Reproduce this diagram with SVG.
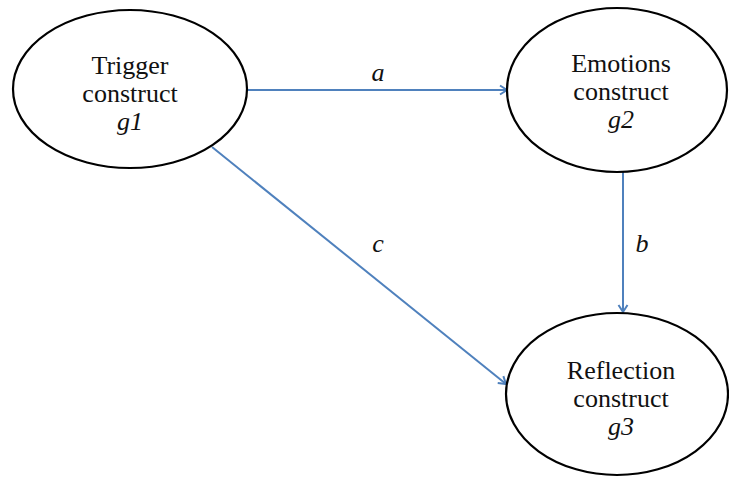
<svg xmlns="http://www.w3.org/2000/svg" width="729" height="478" viewBox="0 0 729 478">
<style>
.node{fill:#fff;stroke:#000;stroke-width:2.2}
.t{font-family:'Liberation Serif','Times New Roman','DejaVu Serif',serif;font-size:26px;fill:#111;text-anchor:middle}
.i{font-style:italic}
.e{stroke:#4F81BD;stroke-width:2;fill:none}
</style>
<defs>
<marker id="ah" markerWidth="12" markerHeight="12" refX="10" refY="6" orient="auto" markerUnits="userSpaceOnUse">
<path d="M3,1.5 L10,6 L3,10.5" fill="none" stroke="#4F81BD" stroke-width="2"/>
</marker>
</defs>
<rect width="729" height="478" fill="#fff"/>
<g id="edges">
<line class="e" x1="247" y1="90" x2="507" y2="90" marker-end="url(#ah)"/>
<line class="e" x1="212" y1="147" x2="506" y2="384" marker-end="url(#ah)"/>
<line class="e" x1="623" y1="172" x2="623" y2="312" marker-end="url(#ah)"/>
<text class="t i" x="378" y="81">a</text>
<text class="t i" x="378" y="252">c</text>
<text class="t i" x="642" y="252">b</text>
</g>
<g id="g1">
<ellipse class="node" cx="130" cy="89" rx="117" ry="79"/>
<text class="t" x="130" y="74">Trigger</text>
<text class="t" x="130" y="102">construct</text>
<text class="t i" x="130" y="130">g1</text>
</g>
<g id="g2">
<ellipse class="node" cx="617" cy="90" rx="110" ry="82"/>
<text class="t" x="621" y="72">Emotions</text>
<text class="t" x="621" y="100">construct</text>
<text class="t i" x="621" y="128">g2</text>
</g>
<g id="g3">
<ellipse class="node" cx="617" cy="394" rx="111" ry="81"/>
<text class="t" x="621" y="379">Reflection</text>
<text class="t" x="621" y="407">construct</text>
<text class="t i" x="621" y="435">g3</text>
</g>
</svg>
